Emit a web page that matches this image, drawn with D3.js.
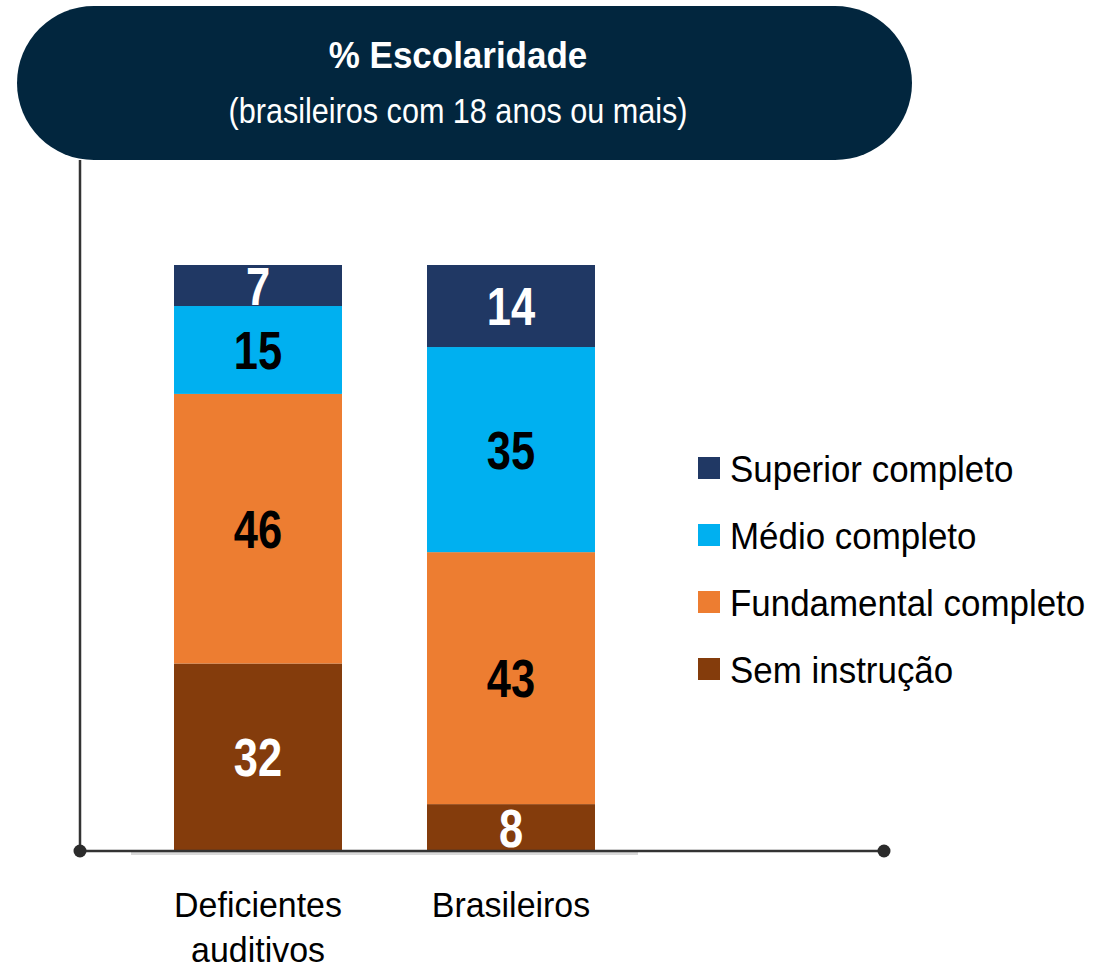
<!DOCTYPE html>
<html>
<head>
<meta charset="utf-8">
<script src="https://cdn.jsdelivr.net/npm/d3@7/dist/d3.min.js"></script>
<style>
  body { margin: 0; background: #fff; }
  svg { display: block; }
  text { font-family: "Liberation Sans", Arial, sans-serif; }
</style>
</head>
<body>
<svg id="chart" width="1101" height="973"></svg>
<script>
// data
var categories = ["Deficientes auditivos", "Brasileiros"];
var categoryLines = [["Deficientes", "auditivos"], ["Brasileiros"]];
var seriesNames = ["Sem instrução", "Fundamental completo", "Médio completo", "Superior completo"];
var semInstrucao = [32, 8];
var fundamental = [46, 43];
var medio = [15, 35];
var superior = [7, 14];
var colors = ["#843C0C", "#ED7D31", "#00B0F0", "#203864"];
var labelColors = ["#fff", "#000", "#000", "#fff"];

var rows = categories.map(function(c, i) {
    return {
        cat: c,
        "Sem instrução": semInstrucao[i],
        "Fundamental completo": fundamental[i],
        "Médio completo": medio[i],
        "Superior completo": superior[i]
    };
});

var svg = d3.select("#chart");

// squeezed text (the original uses a narrow face)
function narrow(parent, x, y, sx) {
    return parent.append("g")
        .attr("transform", "translate(" + x + "," + y + ") scale(" + sx + ",1)")
        .append("text");
}

// title banner
svg.append("rect")
    .attr("x", 17).attr("y", 6)
    .attr("width", 895).attr("height", 154)
    .attr("rx", 77).attr("ry", 77)
    .attr("fill", "#02263E");

narrow(svg, 458, 68, 0.945)
    .attr("text-anchor", "middle")
    .attr("fill", "#fff")
    .attr("font-size", 37)
    .attr("font-weight", "bold")
    .text("% Escolaridade");

narrow(svg, 458, 123, 0.85)
    .attr("text-anchor", "middle")
    .attr("fill", "#fff")
    .attr("font-size", 36)
    .text("(brasileiros com 18 anos ou mais)");

// scales
var x = d3.scaleBand()
    .domain(categories)
    .range([131, 638])
    .paddingInner(0.336)
    .paddingOuter(0.17);

var y = d3.scaleLinear()
    .domain([0, 100])
    .range([851, 265]);

var stack = d3.stack().keys(seriesNames);
var stacked = stack(rows);

// light shadow under bars
svg.append("line")
    .attr("x1", 131).attr("x2", 638)
    .attr("y1", 853.5).attr("y2", 853.5)
    .attr("stroke", "#d9d9d9")
    .attr("stroke-width", 3);

var layers = svg.selectAll(".layer")
    .data(stacked)
    .enter().append("g")
    .attr("class", "layer")
    .attr("fill", function(d, i) { return colors[i]; });

layers.selectAll("rect")
    .data(function(d) { return d; })
    .enter().append("rect")
    .attr("x", function(d) { return x(d.data.cat); })
    .attr("width", x.bandwidth())
    .attr("y", function(d) { return y(d[1]); })
    .attr("height", function(d) { return y(d[0]) - y(d[1]); });

// value labels
stacked.forEach(function(layer, li) {
    layer.forEach(function(d) {
        narrow(svg, x(d.data.cat) + x.bandwidth() / 2, (y(d[0]) + y(d[1])) / 2, 0.82)
            .attr("dy", "0.36em")
            .attr("text-anchor", "middle")
            .attr("font-size", 53)
            .attr("font-weight", "bold")
            .attr("fill", labelColors[li])
            .text(d[1] - d[0]);
    });
});

// axes lines
svg.append("line")
    .attr("x1", 80).attr("x2", 80)
    .attr("y1", 160).attr("y2", 851)
    .attr("stroke", "#333").attr("stroke-width", 2.5);

svg.append("line")
    .attr("x1", 80).attr("x2", 884)
    .attr("y1", 851).attr("y2", 851)
    .attr("stroke", "#333").attr("stroke-width", 2.5);

svg.selectAll(".dot")
    .data([80, 884])
    .enter().append("circle")
    .attr("cx", function(d) { return d; })
    .attr("cy", 851)
    .attr("r", 6.5)
    .attr("fill", "#2b2b2b");

// category labels
categories.forEach(function(c, i) {
    categoryLines[i].forEach(function(t, j) {
        narrow(svg, x(c) + x.bandwidth() / 2, 917 + j * 45, 0.97)
            .attr("text-anchor", "middle")
            .attr("font-size", 35)
            .attr("fill", "#000")
            .text(t);
    });
});

// legend
var legendOrder = seriesNames.slice().reverse();
var legend = svg.selectAll(".leg")
    .data(legendOrder)
    .enter().append("g")
    .attr("class", "leg")
    .attr("transform", function(d, i) { return "translate(698," + (457 + i * 67) + ")"; });

legend.append("rect")
    .attr("width", 22).attr("height", 22)
    .attr("fill", function(d) { return colors[seriesNames.indexOf(d)]; });

legend.each(function(d) {
    narrow(d3.select(this), 32, 25, 0.944)
        .attr("font-size", 37)
        .attr("fill", "#000")
        .text(d);
});
</script>
</body>
</html>
